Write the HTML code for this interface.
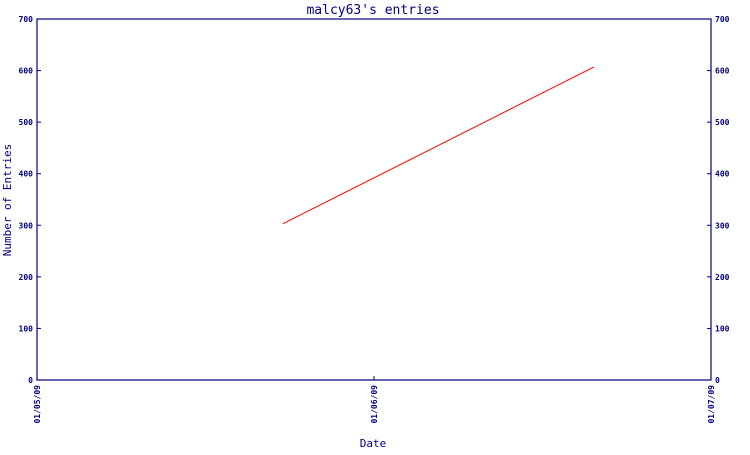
<!DOCTYPE html>
<html><head><meta charset="utf-8"><style>
body{margin:0;background:#fff}
svg text{font-family:"DejaVu Sans Mono","Liberation Mono",monospace;fill:#000080}
</style></head><body>
<svg id="chart" width="750" height="450" xmlns="http://www.w3.org/2000/svg">
<text x="373" y="14" font-size="13" text-anchor="middle">malcy63's entries</text>
<text transform="translate(11,200) rotate(-90)" font-size="11" text-anchor="middle">Number of Entries</text>
<text x="373" y="447" font-size="11" text-anchor="middle">Date</text>
<g id="axes"></g>
<g id="marks"></g>
</svg>
<script>
const yTicks=[0,100,200,300,400,500,600,700];
const xTickLabels=["01/05/09","01/06/09","01/07/09"];
const xTickPos=[0,1,2];
const seriesX=[0.73,1.653];
const seriesY=[303,607];
const L=37,R=711,T=19,B=380;
const xs=v=>L+(v-0)/(2-0)*(R-L);
const ys=v=>B-(v/700)*(B-T);
const NS="http://www.w3.org/2000/svg";
const axes=document.getElementById('axes'),marks=document.getElementById('marks');
function mk(p,tag,attrs){const e=document.createElementNS(NS,tag);for(const k in attrs)e.setAttribute(k,attrs[k]);p.appendChild(e);return e;}
const frame=mk(axes,'rect',{x:L,y:T,width:R-L,height:B-T,fill:'none',stroke:'#000080','stroke-width':1.2});


yTicks.forEach(v=>{
 const y=ys(v);
 const t1=mk(axes,'line',{x1:L,x2:L+4,y1:y,y2:y,stroke:'#000080'});
 
 
 const t2=mk(axes,'line',{x1:R-4,x2:R,y1:y,y2:y,stroke:'#000080'});
 
 
 const l1=mk(axes,'text',{x:L-4,y:y+3,'font-size':8,'text-anchor':'end','font-weight':'bold'});l1.textContent=v;
 
 
 const l2=mk(axes,'text',{x:R+4,y:y+3,'font-size':8,'font-weight':'bold'});l2.textContent=v;
 
 
});
xTickPos.forEach((p,i)=>{
 const x=xs(p);
 const t=mk(axes,'line',{x1:x,x2:x,y1:B-4,y2:B,stroke:'#000080'});
 
 
 const l=mk(axes,'text',{transform:`translate(${x+3},${B+5}) rotate(-90)`,'font-size':8,'text-anchor':'end','font-weight':'bold'});l.textContent=xTickLabels[i];
 
 
});
const pts=seriesX.map((x,i)=>xs(x)+','+ys(seriesY[i])).join(' ');
const line=mk(marks,'polyline',{points:pts,fill:'none',stroke:'#ff0000','stroke-width':1});


</script>
</body></html>
